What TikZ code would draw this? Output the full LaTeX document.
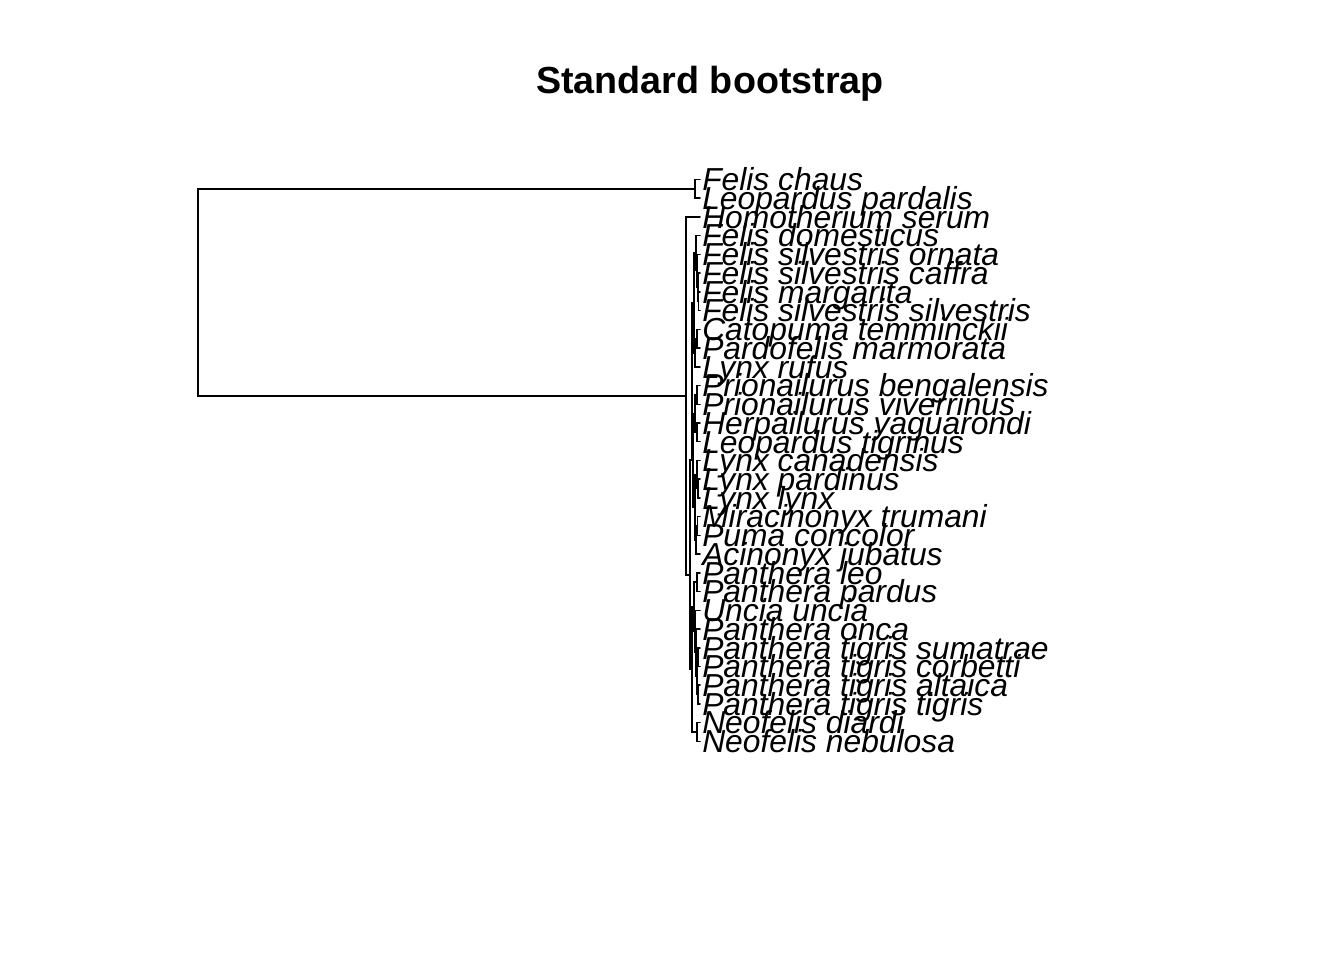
\documentclass[tikz,border=0pt]{standalone}
\usepackage{fontspec}
\setmainfont{Liberation Sans}
\begin{document}
\begin{tikzpicture}[x=1pt,y=-1pt,line width=1.5pt,line cap=round,
  lab/.style={anchor=base west,inner sep=0pt,font=\fontsize{31.8}{32}\selectfont\itshape},
  ttl/.style={anchor=base,inner sep=0pt,font=\fontsize{37.7}{40}\selectfont\bfseries}]
\useasboundingbox[fill=white] (0,0) rectangle (1344,960);
\node[ttl] (title) at (710,94) {Standard bootstrap};
% tips and labels
\foreach \i/\nm in {1/Felis chaus,2/Leopardus pardalis,3/Homotherium serum,4/Felis domesticus,
  5/Felis silvestris ornata,6/Felis silvestris caffra,7/Felis margarita,8/Felis silvestris silvestris,
  9/Catopuma temminckii,10/Pardofelis marmorata,11/Lynx rufus,12/Prionailurus bengalensis,
  13/Prionailurus viverrinus,14/Herpailurus yaguarondi,15/Leopardus tigrinus,16/Lynx canadensis,
  17/Lynx pardinus,18/Lynx lynx,19/Miracinonyx trumani,20/Puma concolor,21/Acinonyx jubatus,
  22/Panthera leo,23/Panthera pardus,24/Uncia uncia,25/Panthera onca,26/Panthera tigris sumatrae,
  27/Panthera tigris corbetti,28/Panthera tigris altaica,29/Panthera tigris tigris,
  30/Neofelis diardi,31/Neofelis nebulosa}{
  \coordinate (t\i) at (700,{179.5+18.73*(\i-1)});
  \node[lab] (l\i) at (701.5,{179.5+18.73*(\i-1)+11.3}) {\nm};
}
% internal nodes
\coordinate (R) at (198,300);
\coordinate (T) at (695,188.9);
\coordinate (B) at (686,396);
\coordinate (A) at (690,575);
\coordinate (X) at (692,460);
\coordinate (X1) at (694,303);
\coordinate (Fa) at (696,253.2);
\coordinate (Fa2) at (697,270.7);
\coordinate (Fa3) at (698,287);
\coordinate (Fa4) at (698.5,301.25);
\coordinate (X1b) at (695,352.75);
\coordinate (Fb) at (697,338.7);
\coordinate (X2) at (693,460.4);
\coordinate (X2a) at (695,413.6);
\coordinate (Fd) at (697,394.9);
\coordinate (Fe) at (697,432.35);
\coordinate (X2b) at (695,507.25);
\coordinate (Ff) at (697,474.5);
\coordinate (Ff2) at (698,488.55);
\coordinate (Fg) at (696,540);
\coordinate (n1920) at (697.5,526);
\coordinate (Y) at (692,669.4);
\coordinate (Y1) at (694,606.75);
\coordinate (n2223) at (697,582.15);
\coordinate (Y1b) at (695,631.35);
\coordinate (Y1c) at (696,652.4);
\coordinate (tig) at (697,675.8);
\coordinate (n2627) at (698,657.1);
\coordinate (n2829) at (698,694.55);
\coordinate (Neo) at (697,732);
% edges
\foreach \p/\c in {R/T,R/B,T/t1,T/t2,B/t3,B/A,A/X,A/Y,X/X1,X/X2,X1/Fa,X1/X1b,
  Fa/t4,Fa/Fa2,Fa2/t5,Fa2/Fa3,Fa3/t6,Fa3/Fa4,Fa4/t7,Fa4/t8,X1b/Fb,X1b/t11,Fb/t9,Fb/t10,
  X2/X2a,X2/X2b,X2a/Fd,X2a/Fe,Fd/t12,Fd/t13,Fe/t14,Fe/t15,X2b/Ff,X2b/Fg,Ff/t16,Ff/Ff2,
  Ff2/t17,Ff2/t18,Fg/n1920,Fg/t21,n1920/t19,n1920/t20,Y/Y1,Y/Neo,Y1/n2223,Y1/Y1b,
  n2223/t22,n2223/t23,Y1b/t24,Y1b/Y1c,Y1c/t25,Y1c/tig,tig/n2627,tig/n2829,
  n2627/t26,n2627/t27,n2829/t28,n2829/t29,Neo/t30,Neo/t31}{
  \draw (\p) |- (\c);
}
\end{tikzpicture}
\end{document}
